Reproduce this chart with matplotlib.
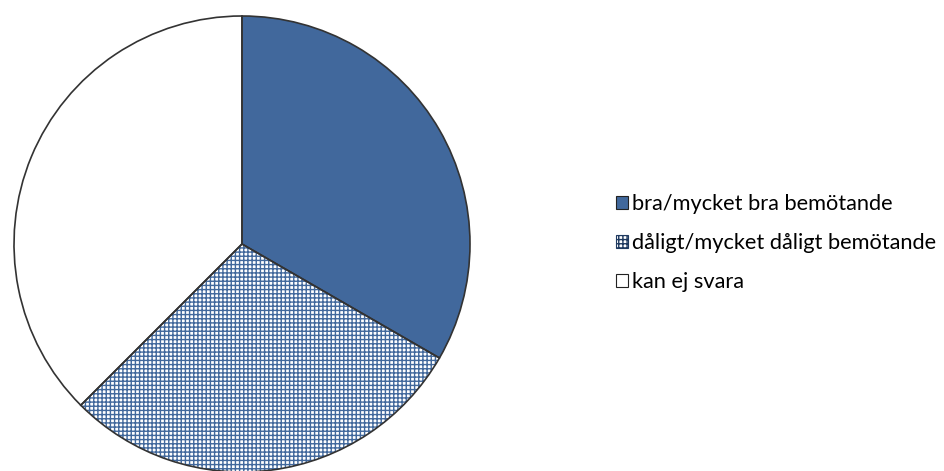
import matplotlib.pyplot as plt
from matplotlib.patches import Patch

# answers (counts)
labels = ['bra/mycket bra bemötande', 'dåligt/mycket dåligt bemötande', 'kan ej svara']
counts = [8, 7, 9]

blue = '#41689c'

fig = plt.figure(figsize=(9.45, 4.71), dpi=100)
ax = fig.add_axes([14 / 945, -1 / 471, 456 / 945, 456 / 471])

# filled wedges (hatch colour comes from edgecolor)
wedges, _ = ax.pie(counts, startangle=90, counterclock=False, radius=1,
                   wedgeprops=dict(linewidth=0))
wedges[0].set_facecolor(blue)
wedges[0].set_edgecolor(blue)
wedges[1].set_facecolor('white')
wedges[1].set_edgecolor(blue)
wedges[1].set_hatch('++++')
wedges[2].set_facecolor('white')
wedges[2].set_edgecolor('white')

# outlines on top
outl, _ = ax.pie(counts, startangle=90, counterclock=False, radius=1,
                 wedgeprops=dict(fill=False, linewidth=1.2, edgecolor='#333333'))
for w in outl:
    w.set_clip_on(False)
for w in wedges:
    w.set_clip_on(False)

ax.set_xlim(-1, 1)
ax.set_ylim(-1, 1)
ax.set_aspect('equal')
ax.axis('off')

handles = [
    Patch(facecolor=blue, edgecolor='#222222', linewidth=0.8),
    Patch(facecolor='white', edgecolor='#1f3a60', hatch='++++', linewidth=0.8),
    Patch(facecolor='white', edgecolor='#222222', linewidth=0.8),
]
fig.legend(handles, labels, loc='center left', bbox_to_anchor=(596 / 945, 1 - 243 / 471),
           frameon=False, handlelength=0.55, handleheight=0.55, handletextpad=0.22,
           labelspacing=0.88, prop=dict(family='Lato', size=15.7))

fig.savefig('out.png', dpi=100)
